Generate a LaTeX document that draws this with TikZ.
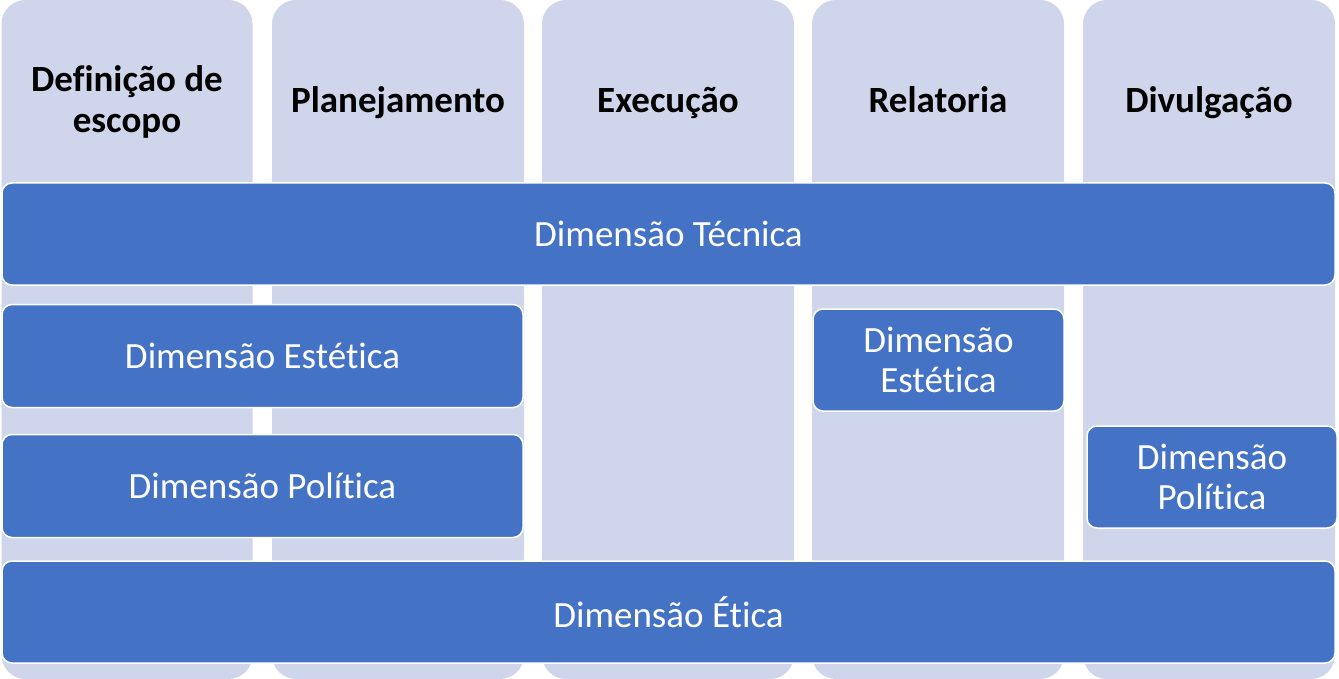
\documentclass[tikz,border=0pt]{standalone}
\usepackage{fontspec}
\setmainfont{Carlito}[Ligatures=NoCommon]
\definecolor{colfill}{HTML}{CFD5EA}
\definecolor{barfill}{HTML}{4472C4}
\begin{document}
\begin{tikzpicture}[x=1pt,y=-1pt,
  colbox/.style={fill=colfill, draw=none, rounded corners=24pt, inner sep=0pt, outer sep=0pt},
  bar/.style={fill=barfill, draw=white, line width=1.5pt, rounded corners=10pt, inner sep=0pt, outer sep=0pt,
     text=white, align=center, font=\fontsize{37}{40}\selectfont},
  head/.style={text=black, align=center, font=\fontsize{37}{41}\selectfont\bfseries, inner sep=0pt}
]
\useasboundingbox (0,0) rectangle (1339,679);
% columns
\node[colbox, minimum width=251pt, minimum height=679pt] (c1) at (127,339.5) {};
\node[colbox, minimum width=252pt, minimum height=679pt] (c2) at (398,339.5) {};
\node[colbox, minimum width=252pt, minimum height=679pt] (c3) at (668,339.5) {};
\node[colbox, minimum width=252pt, minimum height=679pt] (c4) at (938,339.5) {};
\node[colbox, minimum width=252pt, minimum height=679pt] (c5) at (1209,339.5) {};
% headers
\node[head] (h1) at (127,102) {Definição de\\escopo};
\node[head, anchor=base] (h2) at (398,113) {Planejamento};
\node[head, anchor=base] (h3) at (668,113) {Execução};
\node[head, anchor=base] (h4) at (938,113) {Relatoria};
\node[head, anchor=base] (h5) at (1209,113) {Divulgação};
% bars
\node[bar, minimum width=1333pt, minimum height=102pt] (tec) at (668.5,234) {Dimensão Técnica};
\node[bar, minimum width=521pt, minimum height=103pt] (est1) at (262.5,356) {Dimensão Estética};
\node[bar, minimum width=521pt, minimum height=103pt] (pol1) at (262.5,486) {Dimensão Política};
\node[bar, minimum width=251pt, minimum height=102pt] (est2) at (938.5,360) {Dimensão\\Estética};
\node[bar, minimum width=250pt, minimum height=102pt] (pol2) at (1212,477) {Dimensão\\Política};
\node[bar, minimum width=1333pt, minimum height=102pt] (eti) at (668.5,612) {Dimensão Ética};
\end{tikzpicture}
\end{document}
